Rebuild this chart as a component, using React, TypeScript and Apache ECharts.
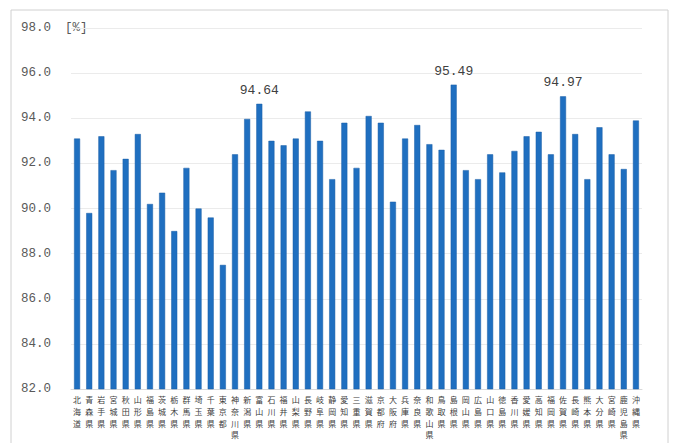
import React, { useEffect, useRef } from "react";
import * as echarts from "echarts";

const prefectures = [
  "北海道", "青森県", "岩手県", "宮城県", "秋田県", "山形県", "福島県", "茨城県", "栃木県", "群馬県",
  "埼玉県", "千葉県", "東京都", "神奈川県", "新潟県", "富山県", "石川県", "福井県", "山梨県", "長野県",
  "岐阜県", "静岡県", "愛知県", "三重県", "滋賀県", "京都府", "大阪府", "兵庫県", "奈良県", "和歌山県",
  "鳥取県", "島根県", "岡山県", "広島県", "山口県", "徳島県", "香川県", "愛媛県", "高知県", "福岡県",
  "佐賀県", "長崎県", "熊本県", "大分県", "宮崎県", "鹿児島県", "沖縄県",
];

const rates = [
  93.1, 89.8, 93.2, 91.7, 92.2, 93.3, 90.2, 90.7, 89.0, 91.8,
  90.0, 89.6, 87.5, 92.4, 93.97, 94.64, 93.0, 92.8, 93.1, 94.3,
  93.0, 91.3, 93.8, 91.8, 94.1, 93.8, 90.3, 93.1, 93.7, 92.85,
  92.6, 95.49, 91.7, 91.3, 92.4, 91.6, 92.55, 93.2, 93.4, 92.4,
  94.97, 93.3, 91.3, 93.6, 92.4, 91.75, 93.9,
];

const labeledPrefectures = ["富山県", "島根県", "佐賀県"];

const yMin = 82;
const yMax = 98;
const yStep = 2;
const unitLabel = "[%]";

const FONT = "'Noto Sans CJK JP', 'Noto Sans', sans-serif";
const MONO = "'Liberation Mono', 'DejaVu Sans Mono', monospace";

export default function App() {
  const ref = useRef<HTMLDivElement>(null);

  useEffect(() => {
    document.body.style.margin = "0";
    if (!ref.current) return;
    const chart = echarts.init(ref.current, undefined, { renderer: "svg" });
    const data = rates.map((v, i) => {
      const show = labeledPrefectures.includes(prefectures[i]);
      return {
        value: v,
        label: {
          show,
          position: "top",
          distance: 7,
          formatter: (p: any) => p.value.toFixed(2),
          fontSize: 13,
          color: "#404040",
          fontFamily: MONO,
        },
      };
    });
    chart.setOption({
      animation: false,
      backgroundColor: "#ffffff",
      grid: { left: 71, right: 35, top: 28, bottom: 54 },
      graphic: [
        {
          type: "rect",
          shape: { x: 11, y: 10, width: 657, height: 440 },
          style: { fill: "none", stroke: "#d0d0d0", lineWidth: 1 },
          silent: true,
        },
        {
          type: "text",
          left: 65,
          top: 21,
          style: {
            text: unitLabel,
            fontSize: 12.5,
            fill: "#595959",
            fontFamily: MONO,
          },
        },
      ],
      xAxis: {
        type: "category",
        data: prefectures,
        axisTick: { show: false },
        axisLine: { show: true, lineStyle: { color: "#d9d9d9" } },
        axisLabel: {
          interval: 0,
          margin: 5,
          fontSize: 8,
          lineHeight: 11.6,
          color: "#404040",
          fontFamily: FONT,
          formatter: (v: string) => v.split("").join("\n"),
        },
      },
      yAxis: {
        type: "value",
        min: yMin,
        max: yMax,
        interval: yStep,
        axisLine: { show: false },
        axisTick: { show: false },
        splitLine: { show: true, lineStyle: { color: "#ebebeb", width: 1 } },
        axisLabel: {
          margin: 20,
          fontSize: 12.5,
          color: "#595959",
          fontFamily: MONO,
          formatter: (v: number) => v.toFixed(1),
        },
      },
      series: [
        {
          type: "bar",
          data,
          barWidth: 6,
          itemStyle: { color: "#1f6fc0", borderColor: "#1a5fa6", borderWidth: 0.5 },
        },
      ],
    });
    return () => chart.dispose();
  }, []);

  return (
    <div
      ref={ref}
      style={{ position: "fixed", left: 0, top: 0, width: 677, height: 443 }}
    />
  );
}
